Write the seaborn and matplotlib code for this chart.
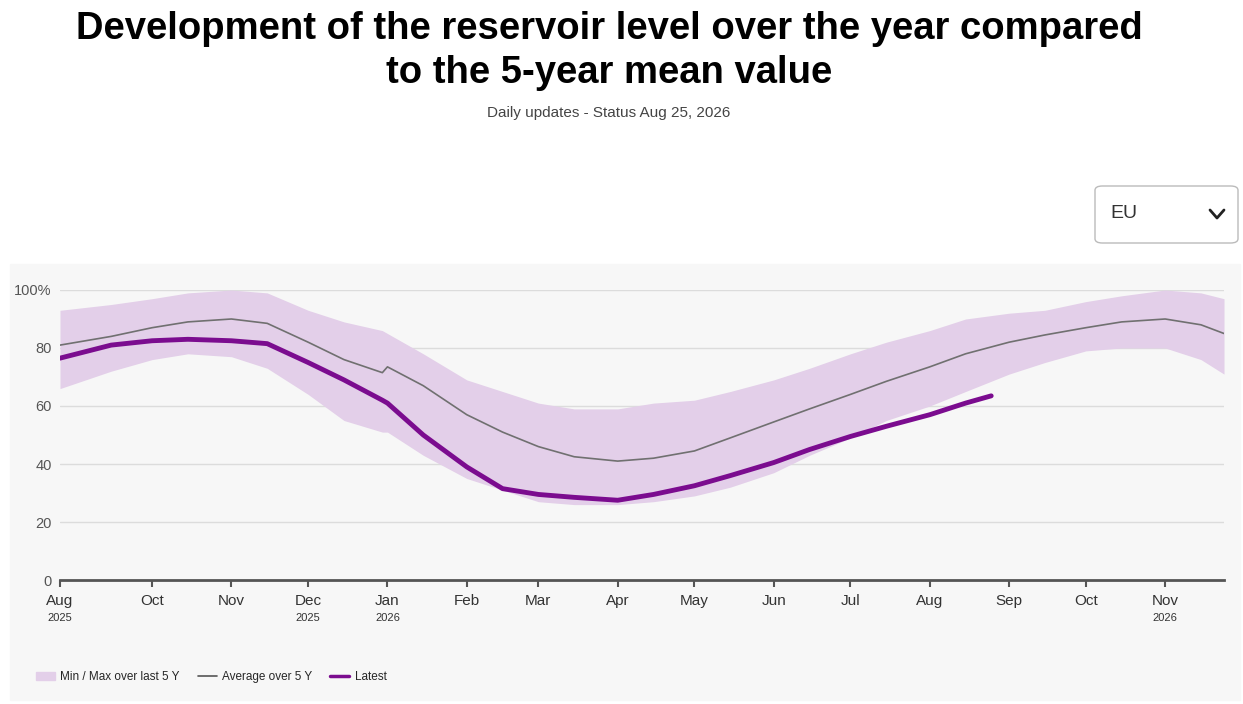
import pandas as pd
import seaborn as sns
import matplotlib.pyplot as plt
import matplotlib.dates as mdates
from matplotlib.patches import FancyBboxPatch, Rectangle, Patch
from matplotlib.lines import Line2D

# values (percent filled)
dates = ["2025-08-26", "2025-09-15", "2025-10-01", "2025-10-15", "2025-11-01", "2025-11-15",
         "2025-12-01", "2025-12-15", "2025-12-30", "2026-01-01", "2026-01-15", "2026-02-01",
         "2026-02-15", "2026-03-01", "2026-03-15", "2026-04-01", "2026-04-15", "2026-05-01",
         "2026-05-15", "2026-06-01", "2026-06-15", "2026-07-01", "2026-07-15", "2026-08-01",
         "2026-08-15", "2026-09-01", "2026-09-15", "2026-10-01", "2026-10-15", "2026-11-01",
         "2026-11-15", "2026-11-24"]
avg5 = [81, 84, 87, 89, 90, 88.5, 82, 76, 71.5, 73.5, 67, 57, 51, 46, 42.5, 41, 42, 44.5,
        49, 54.5, 59, 64, 68.5, 73.5, 78, 82, 84.5, 87, 89, 90, 88, 85]
max5 = [93, 95, 97, 99, 100, 99, 93, 89, 86, 85, 78, 69, 65, 61, 59, 59, 61, 62,
        65, 69, 73, 78, 82, 86, 90, 92, 93, 96, 98, 100, 99, 97]
min5 = [66, 72, 76, 78, 77, 73, 64, 55, 51, 51, 43, 35, 31, 27, 26, 26, 27, 29,
        32, 37, 43, 49, 55, 60, 65, 71, 75, 79, 80, 80, 76, 71]
latest_dates = dates[:25] + ["2026-08-25"]
latest = [76.5, 81, 82.5, 83, 82.5, 81.5, 75, 69, 62, 61, 50, 39, 31.5, 29.5, 28.5, 27.5,
          29.5, 32.5, 36, 40.5, 45, 49.5, 53, 57, 61, 63.5]

df = pd.DataFrame({"date": pd.to_datetime(dates), "avg": avg5, "max": max5, "min": min5})
df_latest = pd.DataFrame({"date": pd.to_datetime(latest_dates), "latest": latest})

sns.set_style("white")
plt.rcParams["font.family"] = ["Liberation Sans", "DejaVu Sans"]

fig = plt.figure(figsize=(12.43, 7.04), dpi=100)
fig.patches.append(Rectangle((10 / 1243, 4 / 704), 1230 / 1243, 436 / 704,
                             transform=fig.transFigure, color="#f7f7f7", zorder=-1))
ax = fig.add_axes([60 / 1243, 1 - 580 / 704, 1164 / 1243, 290 / 704])
ax.set_facecolor("#f7f7f7")

purple = "#7b0c8f"
ax.fill_between(df["date"], df["min"], df["max"], color="#e3cfe9", lw=0)
sns.lineplot(data=df, x="date", y="avg", ax=ax, color="#707070", lw=1.2)
sns.lineplot(data=df_latest, x="date", y="latest", ax=ax, color=purple, lw=3.5)

ax.set_xlim(pd.Timestamp("2025-08-26"), pd.Timestamp("2026-11-24"))
ax.set_ylim(0, 100)
ax.set_yticks([0, 20, 40, 60, 80, 100])
ax.set_yticklabels(["0", "20", "40", "60", "80", "100%"])
ax.grid(axis="y", color="#dcdcdc", lw=1)
for s in ["top", "right", "left"]:
    ax.spines[s].set_visible(False)
ax.spines["bottom"].set_color("#555555")
ax.spines["bottom"].set_linewidth(2)

ticks = pd.to_datetime(["2025-08-26", "2025-10-01", "2025-11-01", "2025-12-01", "2026-01-01",
                        "2026-02-01", "2026-03-01", "2026-04-01", "2026-05-01", "2026-06-01",
                        "2026-07-01", "2026-08-01", "2026-09-01", "2026-10-01", "2026-11-01"])
month_labels = ["Aug", "Oct", "Nov", "Dec", "Jan", "Feb", "Mar", "Apr", "May", "Jun",
                "Jul", "Aug", "Sep", "Oct", "Nov"]
year_labels = {0: "2025", 3: "2025", 4: "2026", 14: "2026"}
ax.set_xticks(ticks)
ax.set_xticklabels(month_labels, fontsize=11, color="#333333")
ax.tick_params(axis="x", bottom=True, direction="out", length=5, width=1.5,
               color="#555555", pad=5)
ax.tick_params(axis="y", labelsize=10.5, colors="#555555", length=0, pad=6)
for i, yl in year_labels.items():
    ax.annotate(yl, (mdates.date2num(ticks[i]), 0), xytext=(0, -24), textcoords="offset points",
                ha="center", va="top", fontsize=8, color="#333333", annotation_clip=False)
ax.set_xlabel("")
ax.set_ylabel("")

fig.text(0.49, 0.985, "Development of the reservoir level over the year compared\nto the 5-year mean value",
         ha="center", va="top", fontsize=27.5, fontweight="bold", linespacing=1.3, color="black")
fig.text(0.49, 0.84, "Daily updates - Status Aug 25, 2026", ha="center", va="center",
         fontsize=11, color="#444444")

# region selector box
fig.patches.append(FancyBboxPatch((1095 / 1243, 1 - 243 / 704), 143 / 1243, 57 / 704,
                                  boxstyle="round,pad=0,rounding_size=0.006",
                                  transform=fig.transFigure, fc="white", ec="#bbbbbb", lw=1))
fig.text(1110 / 1243, 1 - 214 / 704, "EU", va="center", fontsize=14, color="#333333")
fig.add_artist(Line2D([1210 / 1243, 1217 / 1243, 1224 / 1243],
                      [1 - 210 / 704, 1 - 218 / 704, 1 - 210 / 704],
                      transform=fig.transFigure, color="#222222", lw=2))

handles = [Patch(color="#e3cfe9", label="Min / Max over last 5 Y"),
           Line2D([], [], color="#555555", lw=1.2, label="Average over 5 Y"),
           Line2D([], [], color=purple, lw=2.5, label="Latest")]
fig.legend(handles=handles, loc="center left", bbox_to_anchor=(25 / 1243, 1 - 677 / 704),
           ncol=3, frameon=False, fontsize=8.5, handlelength=1.6, columnspacing=1.5,
           handletextpad=0.5)

fig.savefig("out.png", dpi=100)
